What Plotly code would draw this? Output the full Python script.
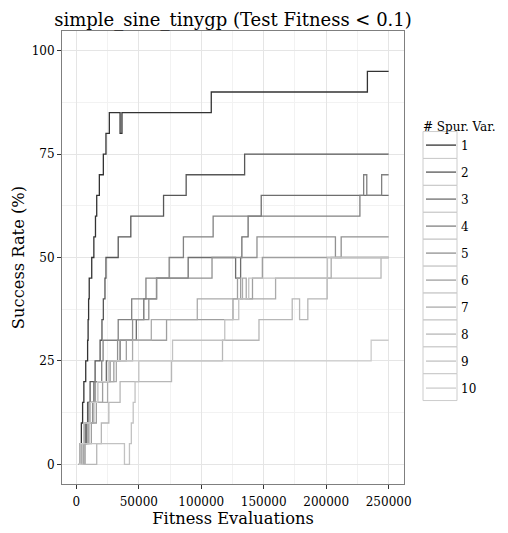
import plotly.graph_objects as go

# ---------------- data (change points of each step curve) ----------------
series_names = ["1", "2", "3", "4", "5", "6", "7", "8", "9", "10"]

s1_x = [2000, 3000, 4000, 5000, 6000, 7500, 9000, 9400, 9800, 10300, 12300, 14000, 15300, 16300, 18400, 21600, 23700, 26400, 35000, 36500, 108000, 233000, 250000]
s1_y = [0, 5, 10, 15, 20, 25, 30, 35, 40, 45, 50, 55, 60, 65, 70, 75, 80, 85, 80, 85, 90, 95, 95]

s2_x = [2000, 5000, 7000, 9000, 11000, 15000, 19000, 20500, 21600, 22900, 23700, 33500, 43600, 69800, 87900, 134700, 250000]
s2_y = [0, 5, 10, 15, 20, 25, 30, 35, 40, 45, 50, 55, 60, 65, 70, 75, 75]

s3_x = [2000, 4000, 8000, 11000, 14000, 24000, 35000, 48000, 54000, 64200, 89500, 127500, 131500, 132500, 137500, 148000, 250000]
s3_y = [0, 5, 10, 15, 20, 25, 30, 35, 40, 45, 50, 45, 50, 55, 60, 65, 65]

s4_x = [2000, 3500, 6000, 10000, 15000, 20300, 21400, 33500, 44300, 55700, 74300, 85700, 109500, 227000, 230000, 232500, 244400, 250000]
s4_y = [0, 5, 10, 15, 20, 25, 30, 35, 40, 45, 50, 55, 60, 65, 70, 65, 70, 70]

s5_x = [2000, 6000, 10000, 13000, 17000, 27000, 33000, 45000, 58000, 64200, 108600, 144600, 207400, 212000, 250000]
s5_y = [0, 5, 10, 15, 20, 25, 30, 35, 40, 45, 50, 55, 50, 55, 55]

s6_x = [2000, 7000, 12000, 16000, 21000, 30000, 40000, 72200, 125400, 129000, 131500, 141000, 148900, 250000]
s6_y = [0, 5, 10, 15, 20, 25, 30, 35, 40, 45, 40, 45, 50, 50]

s7_x = [2000, 4000, 9000, 14000, 25000, 32000, 45000, 60000, 96800, 133000, 136000, 159500, 204000, 250000]
s7_y = [0, 5, 10, 15, 20, 25, 30, 35, 40, 45, 40, 45, 50, 50]

s8_x = [2000, 16300, 20000, 26000, 35000, 76200, 117000, 146200, 172800, 178700, 185300, 200800, 243900, 250000]
s8_y = [0, 5, 10, 15, 20, 25, 30, 35, 40, 35, 40, 45, 50, 50]

s9_x = [2000, 5000, 38500, 42500, 44000, 45500, 47000, 50000, 77000, 118800, 130000, 138000, 201000, 250000]
s9_y = [0, 5, 0, 5, 10, 15, 20, 25, 30, 35, 40, 45, 50, 50]

s10_x = [2000, 3000, 6000, 11000, 17000, 25600, 236000, 250000]
s10_y = [0, 5, 10, 15, 20, 25, 30, 30]

x_ticks = [0, 50000, 100000, 150000, 200000, 250000]
y_ticks = [0, 25, 50, 75, 100]

# ---------------- styling ----------------
colors = ["#333333", "#575757", "#6e6e6e", "#818181", "#919191",
          "#9f9f9f", "#ababab", "#b7b7b7", "#c2c2c2", "#cccccc"]
FONT = "DejaVu Serif"

xs = [s1_x, s2_x, s3_x, s4_x, s5_x, s6_x, s7_x, s8_x, s9_x, s10_x]
ys = [s1_y, s2_y, s3_y, s4_y, s5_y, s6_y, s7_y, s8_y, s9_y, s10_y]

fig = go.Figure()
for name, x, y, c in zip(series_names, xs, ys, colors):
    fig.add_trace(go.Scatter(
        x=x, y=y, mode="lines", name=name, legendgroup=name,
        line=dict(color=c, width=1.3, shape="hv"),
    ))

# The page body has an 8px margin, so the figure is laid out in its own
# coordinates = page coordinates - 8.
OFF = 8
W, H = 508 - OFF, 533 - OFF
# plot panel in page pixels: left 62, right 404, top 31, bottom 484
L, T = 62 - OFF, 31 - OFF
R = W - (404 - OFF)
B = H - (484 - OFF)
pw, ph = W - L - R, H - T - B

def px2paper_x(px_page):
    return (px_page - OFF - L) / pw

def px2paper_y(py_page):
    return 1 - (py_page - OFF - T) / ph

# legend key boxes (ggplot-style), positioned around the native legend keys
ITEM1_Y, ITEM_STEP = 145, 26.9
shapes = []
for i in range(len(series_names)):
    cy = ITEM1_Y + ITEM_STEP * i
    shapes.append(dict(
        type="rect", xref="paper", yref="paper",
        x0=px2paper_x(423), x1=px2paper_x(457),
        y0=px2paper_y(cy + ITEM_STEP / 2), y1=px2paper_y(cy - ITEM_STEP / 2),
        line=dict(color="#cccccc", width=1), fillcolor="rgba(0,0,0,0)", layer="below",
    ))

fig.update_layout(
    width=W, height=H,
    margin=dict(l=L, r=R, t=T, b=B, autoexpand=False),
    paper_bgcolor="white", plot_bgcolor="white",
    font=dict(family=FONT, color="black", size=12),
    title=dict(text="simple_sine_tinygp (Test Fitness < 0.1)",
               font=dict(family=FONT, size=18, color="black"),
               x=0.5, xref="paper", xanchor="center",
               y=1 - (20 - OFF) / H, yref="container", yanchor="middle"),
    showlegend=True,
    legend=dict(
        title=dict(text="# Spur. Var.", font=dict(family=FONT, size=12)),
        font=dict(family=FONT, size=12, color="black"),
        x=px2paper_x(421), xanchor="left",
        y=px2paper_y(115), yanchor="top",
        tracegroupgap=8, bgcolor="rgba(0,0,0,0)",
    ),
    shapes=shapes,
)

fig.update_xaxes(
    range=[-11500, 262300], tickvals=x_ticks, ticktext=[str(v) for v in x_ticks],
    automargin=False,
    showgrid=True, gridcolor="#e5e5e5", gridwidth=1,
    minor=dict(dtick=25000, tick0=0, showgrid=True, gridcolor="#f2f2f2", gridwidth=1),
    zeroline=False, showline=True, linecolor="#7f7f7f", linewidth=1, mirror=True,
    ticks="outside", ticklen=4, tickcolor="#333333", tickwidth=1,
    ticklabelstandoff=3,
    tickfont=dict(family=FONT, size=12, color="black"),
    title=dict(text="Fitness Evaluations", font=dict(family=FONT, size=16.3, color="black"), standoff=4),
)
fig.update_yaxes(
    range=[-4.75, 104.75], tickvals=y_ticks, ticktext=[str(v) for v in y_ticks],
    automargin=False,
    showgrid=True, gridcolor="#e5e5e5", gridwidth=1,
    minor=dict(dtick=12.5, tick0=0, showgrid=True, gridcolor="#f2f2f2", gridwidth=1),
    zeroline=False, showline=True, linecolor="#7f7f7f", linewidth=1, mirror=True,
    ticks="outside", ticklen=4, tickcolor="#333333", tickwidth=1,
    tickfont=dict(family=FONT, size=12, color="black"),
    title=dict(text="Success Rate (%)", font=dict(family=FONT, size=16.3, color="black"), standoff=2),
)

fig.write_html("out.html")
